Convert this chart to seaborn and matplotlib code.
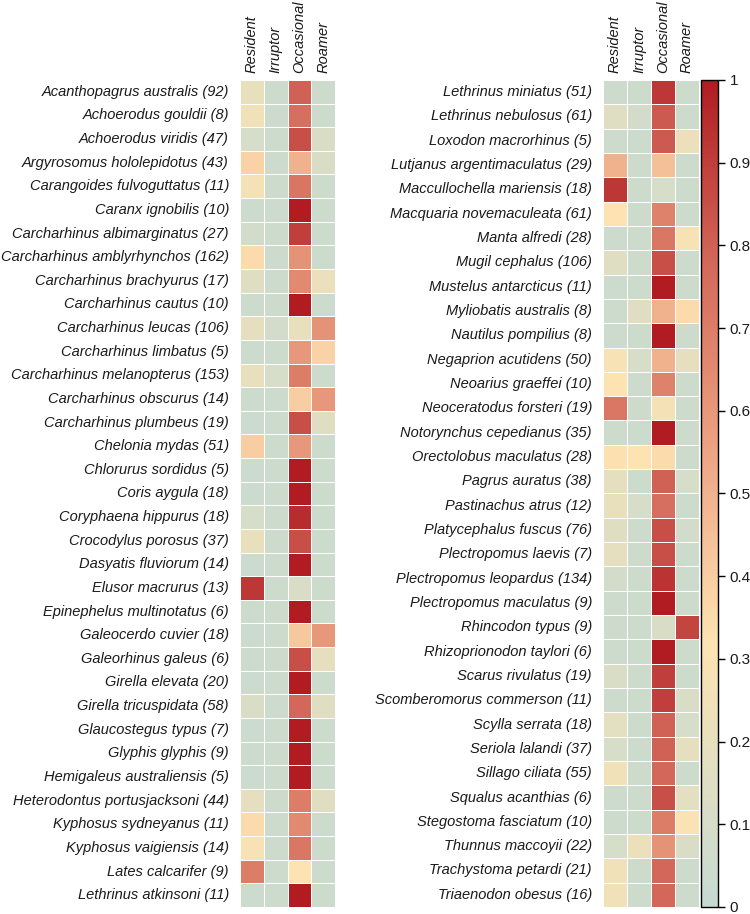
#!/usr/bin/env python3
"""heatmap of movement class proportions per species"""
import matplotlib
matplotlib.use("Agg")
import matplotlib.pyplot as plt
import pandas as pd
import seaborn as sns
from matplotlib.colors import LinearSegmentedColormap

classes = ["Resident", "Irruptor", "Occasional", "Roamer"]

species_left = [
    "Acanthopagrus australis", "Achoerodus gouldii", "Achoerodus viridis",
    "Argyrosomus hololepidotus", "Carangoides fulvoguttatus", "Caranx ignobilis",
    "Carcharhinus albimarginatus", "Carcharhinus amblyrhynchos",
    "Carcharhinus brachyurus", "Carcharhinus cautus", "Carcharhinus leucas",
    "Carcharhinus limbatus", "Carcharhinus melanopterus", "Carcharhinus obscurus",
    "Carcharhinus plumbeus", "Chelonia mydas", "Chlorurus sordidus",
    "Coris aygula", "Coryphaena hippurus", "Crocodylus porosus",
    "Dasyatis fluviorum", "Elusor macrurus", "Epinephelus multinotatus",
    "Galeocerdo cuvier", "Galeorhinus galeus", "Girella elevata",
    "Girella tricuspidata", "Glaucostegus typus", "Glyphis glyphis",
    "Hemigaleus australiensis", "Heterodontus portusjacksoni",
    "Kyphosus sydneyanus", "Kyphosus vaigiensis", "Lates calcarifer",
    "Lethrinus atkinsoni",
]
n_left = [92, 8, 47, 43, 11, 10, 27, 162, 17, 10, 106, 5, 153, 14, 19, 51, 5,
          18, 18, 37, 14, 13, 6, 18, 6, 20, 58, 7, 9, 5, 44, 11, 14, 9, 11]
resident_left = [0.20, 0.25, 0.10, 0.38, 0.27, 0.05, 0.07, 0.35, 0.15, 0.05,
                 0.18, 0.05, 0.20, 0.05, 0.05, 0.40, 0.05, 0.05, 0.10, 0.20,
                 0.05, 0.92, 0.05, 0.05, 0.05, 0.05, 0.12, 0.05, 0.05, 0.05,
                 0.18, 0.35, 0.28, 0.70, 0.05]
irruptor_left = [0.05, 0.05, 0.05, 0.05, 0.05, 0.05, 0.05, 0.05, 0.05, 0.05,
                 0.08, 0.05, 0.10, 0.05, 0.05, 0.05, 0.05, 0.05, 0.05, 0.05,
                 0.05, 0.05, 0.05, 0.05, 0.05, 0.05, 0.05, 0.05, 0.05, 0.05,
                 0.05, 0.05, 0.05, 0.05, 0.05]
occasional_left = [0.80, 0.75, 0.85, 0.50, 0.73, 1.00, 0.90, 0.62, 0.65, 1.00,
                   0.20, 0.60, 0.70, 0.40, 0.85, 0.60, 1.00, 1.00, 0.95, 0.85,
                   1.00, 0.12, 1.00, 0.42, 0.85, 1.00, 0.78, 1.00, 1.00, 1.00,
                   0.70, 0.65, 0.72, 0.32, 1.00]
roamer_left = [0.05, 0.05, 0.12, 0.12, 0.05, 0.05, 0.05, 0.05, 0.22, 0.05,
               0.62, 0.38, 0.05, 0.60, 0.15, 0.05, 0.05, 0.05, 0.05, 0.05,
               0.05, 0.05, 0.05, 0.60, 0.18, 0.05, 0.15, 0.05, 0.05, 0.05,
               0.15, 0.05, 0.05, 0.05, 0.05]

species_right = [
    "Lethrinus miniatus", "Lethrinus nebulosus", "Loxodon macrorhinus",
    "Lutjanus argentimaculatus", "Maccullochella mariensis",
    "Macquaria novemaculeata", "Manta alfredi", "Mugil cephalus",
    "Mustelus antarcticus", "Myliobatis australis", "Nautilus pompilius",
    "Negaprion acutidens", "Neoarius graeffei", "Neoceratodus forsteri",
    "Notorynchus cepedianus", "Orectolobus maculatus", "Pagrus auratus",
    "Pastinachus atrus", "Platycephalus fuscus", "Plectropomus laevis",
    "Plectropomus leopardus", "Plectropomus maculatus", "Rhincodon typus",
    "Rhizoprionodon taylori", "Scarus rivulatus", "Scomberomorus commerson",
    "Scylla serrata", "Seriola lalandi", "Sillago ciliata", "Squalus acanthias",
    "Stegostoma fasciatum", "Thunnus maccoyii", "Trachystoma petardi",
    "Triaenodon obesus",
]
n_right = [51, 61, 5, 29, 18, 61, 28, 106, 11, 8, 8, 50, 10, 19, 35, 28, 38,
           12, 76, 7, 134, 9, 9, 6, 19, 11, 18, 37, 55, 6, 10, 22, 21, 16]
resident_right = [0.05, 0.15, 0.05, 0.50, 0.92, 0.32, 0.05, 0.15, 0.05, 0.05,
                  0.05, 0.28, 0.32, 0.72, 0.05, 0.33, 0.18, 0.20, 0.15, 0.18,
                  0.08, 0.05, 0.05, 0.05, 0.12, 0.05, 0.17, 0.10, 0.25, 0.05,
                  0.05, 0.10, 0.25, 0.25]
irruptor_right = [0.05, 0.08, 0.05, 0.05, 0.05, 0.05, 0.05, 0.05, 0.05, 0.15,
                  0.05, 0.10, 0.05, 0.05, 0.05, 0.32, 0.05, 0.10, 0.05, 0.05,
                  0.05, 0.05, 0.05, 0.05, 0.05, 0.05, 0.05, 0.05, 0.05, 0.05,
                  0.05, 0.22, 0.05, 0.05]
occasional_right = [0.92, 0.82, 0.82, 0.45, 0.10, 0.68, 0.72, 0.85, 1.00, 0.50,
                    1.00, 0.50, 0.68, 0.27, 1.00, 0.35, 0.80, 0.75, 0.85, 0.85,
                    0.93, 1.00, 0.12, 1.00, 0.90, 0.90, 0.80, 0.80, 0.78, 0.85,
                    0.70, 0.62, 0.78, 0.78]
roamer_right = [0.05, 0.05, 0.22, 0.05, 0.05, 0.05, 0.28, 0.05, 0.05, 0.35,
                0.05, 0.18, 0.05, 0.05, 0.05, 0.05, 0.10, 0.05, 0.08, 0.05,
                0.05, 0.05, 0.88, 0.05, 0.05, 0.12, 0.10, 0.18, 0.05, 0.17,
                0.30, 0.12, 0.05, 0.05]


def make_frame(names, counts, cols):
    labels = [f"{s} ({n})" for s, n in zip(names, counts)]
    return pd.DataFrame(dict(zip(classes, cols)), index=labels)


df_left = make_frame(species_left, n_left,
                     [resident_left, irruptor_left, occasional_left, roamer_left])
df_right = make_frame(species_right, n_right,
                      [resident_right, irruptor_right, occasional_right, roamer_right])

cmap = LinearSegmentedColormap.from_list(
    "teal_red",
    [(0.0, "#c5dad2"), (0.32, "#fde3b1"), (0.55, "#eda583"),
     (0.78, "#d3685a"), (1.0, "#b01c22")],
)

sns.set_style("white")
plt.rcParams["font.family"] = ["Liberation Sans", "DejaVu Sans"]

fig = plt.figure(figsize=(7.5, 9.14), dpi=100)
ax_left = fig.add_axes([0.320, 0.0077, 0.1267, 0.9048])
ax_right = fig.add_axes([0.804, 0.0077, 0.128, 0.9048])
cax = fig.add_axes([0.9347, 0.0077, 0.0227, 0.9048])

heat_kw = dict(cmap=cmap, vmin=0, vmax=1, linewidths=0.7, linecolor="white")
sns.heatmap(df_left, ax=ax_left, cbar=False, **heat_kw)
sns.heatmap(df_right, ax=ax_right, cbar_ax=cax, **heat_kw)

for ax in (ax_left, ax_right):
    ax.xaxis.tick_top()
    ax.set_xticklabels(classes, rotation=90, fontsize=10.5, style="italic",
                       color="#1a1a1a")
    ax.set_yticklabels(ax.get_yticklabels(), rotation=0, fontsize=10.5,
                       style="italic", color="#1a1a1a")
    ax.tick_params(axis="y", length=0, pad=8)
    ax.tick_params(axis="x", length=0, pad=5)

# colorbar with outline and plain tick labels
cbar = ax_right.collections[0].colorbar
cbar.outline.set_linewidth(1)
cbar.outline.set_edgecolor("black")
ticks = [i / 10 for i in range(11)]
cbar.set_ticks(ticks)
cbar.set_ticklabels(["0"] + [f"{t:.1f}" for t in ticks[1:-1]] + ["1"])
cax.tick_params(length=5, width=1, labelsize=11, color="black",
                labelcolor="#1a1a1a")

fig.savefig("out.png", dpi=100)
